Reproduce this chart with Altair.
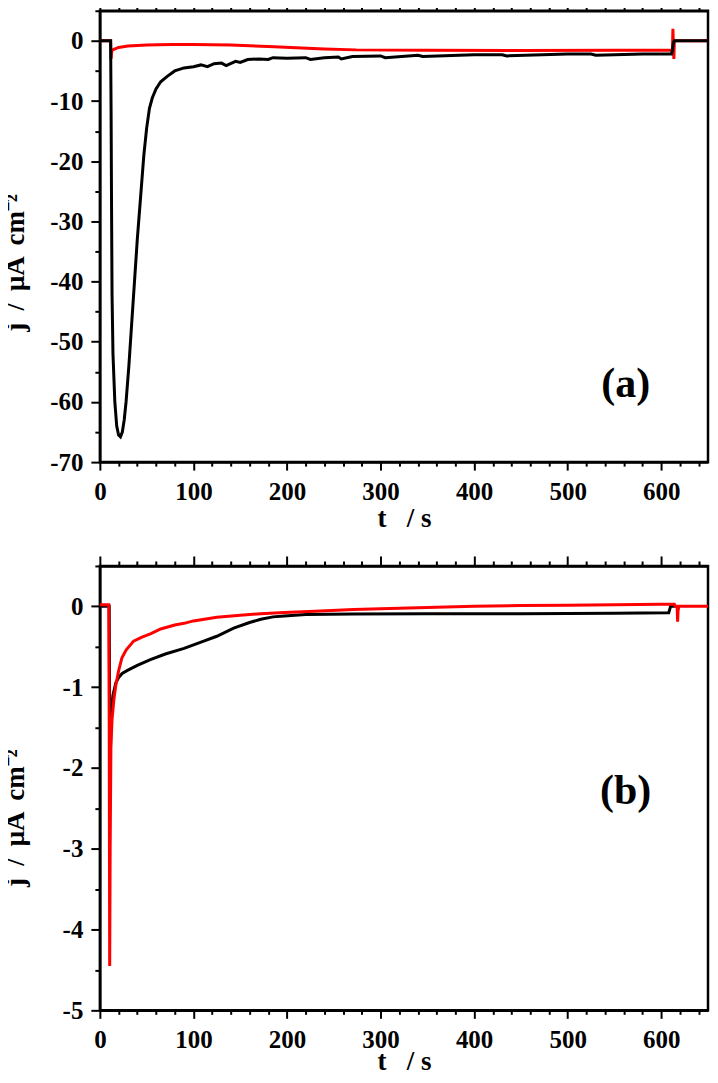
import altair as alt
import pandas as pd

FONT = "Liberation Serif"

# ---------------- Panel (a) ----------------
a_black_t = [0, 10, 11.5, 12, 12.5, 13, 14, 16, 18, 20, 22, 24, 26, 28, 31, 34, 37, 40, 44, 47, 50, 53,
             56, 60, 65, 72, 80, 90, 100, 108, 115, 122, 130, 135, 145, 150, 158, 170, 180, 185, 200,
             220, 225, 240, 255, 258, 270, 300, 305, 340, 345, 400, 430, 435, 500, 525, 530, 580,
             611, 612, 613, 614, 650]
a_black_j = [0, 0, 0, -12, -28, -42, -52, -60, -64, -65.5, -65.8, -65, -63, -60, -54, -47, -40, -33,
             -25, -19, -14.5, -11.2, -9.5, -8, -6.8, -5.9, -5.0, -4.5, -4.3, -4.0, -4.3, -3.8, -3.7,
             -4.1, -3.4, -3.6, -3.1, -3.0, -3.1, -2.8, -2.9, -2.8, -3.1, -2.8, -2.7, -3.0, -2.6, -2.5,
             -2.8, -2.4, -2.6, -2.3, -2.3, -2.5, -2.2, -2.2, -2.4, -2.2, -2.2, -1.5, -0.3, 0, 0]
a_red_t = [0, 11.5, 12, 12.5, 13, 15, 20, 30, 50, 77, 100, 140, 180, 210, 240, 274, 350, 450, 550,
           612, 612.5, 613, 613.5, 614, 615, 650]
a_red_j = [0, 0, -3, -2, -1.6, -1.4, -1.1, -0.85, -0.7, -0.6, -0.6, -0.7, -0.95, -1.15, -1.35, -1.5,
           -1.55, -1.6, -1.55, -1.55, 2.0, -0.5, -3.0, -0.3, 0, 0]

# ---------------- Panel (b) ----------------
b_black_t = [0, 10, 10.5, 11, 11.5, 12.5, 14, 17, 20, 23.8, 30, 40, 54, 70, 90, 111, 125, 143, 160,
             172, 185, 197, 220, 271, 350, 450, 550, 608, 609, 610, 616]
b_black_j = [0, 0, -1.5, -2.1, -1.6, -1.3, -1.1, -0.95, -0.88, -0.83, -0.79, -0.73, -0.66, -0.59,
             -0.52, -0.43, -0.37, -0.27, -0.2, -0.16, -0.13, -0.12, -0.1, -0.095, -0.09, -0.09,
             -0.085, -0.08, -0.04, 0, 0]
b_red_t = [0, 9.5, 10, 10.5, 11, 11.8, 13, 15, 17, 20, 23.5, 28, 36, 45, 54, 65, 80, 90, 100, 125,
           150, 172, 197, 230, 271, 300, 350, 400, 450, 500, 550, 600, 614, 615, 617, 617.5, 618,
           619, 650]
b_red_j = [0.02, 0.02, -1.5, -4.45, -3.0, -1.75, -1.4, -1.15, -0.98, -0.8, -0.64, -0.54, -0.43,
           -0.38, -0.34, -0.28, -0.23, -0.21, -0.18, -0.135, -0.11, -0.09, -0.075, -0.06, -0.04,
           -0.03, -0.015, 0, 0.01, 0.015, 0.02, 0.025, 0.025, 0, 0, -0.19, -0.05, 0, 0]

x_ticks = list(range(0, 660, 20))
a_y_ticks = list(range(-70, 6, 5))
b_y_ticks = [-5 + 0.5 * i for i in range(12)]

panel_labels = ["(a)", "(b)"]
label_t = [562, 562]
label_j = [-57, -2.28]

X_TITLE = "t \u2002/ s"
Y_TITLE = "j \u2009/ \u2009μA \u2009cm⁻²"


def panel(bt, bj, rt, rj, lab, lt, lj, ydom, yticks, ymajor, red_on_top, w, h, xtitle_y):
    black = pd.DataFrame({"t": bt, "j": bj})
    red = pd.DataFrame({"t": rt, "j": rj})
    txt = pd.DataFrame({"t": [lt], "j": [lj], "lab": [lab]})

    xscale = alt.Scale(domain=[0, 650], nice=False, zero=False)
    yscale = alt.Scale(domain=ydom, nice=False, zero=False)

    x_bottom = alt.Axis(
        orient="bottom", values=x_ticks, grid=False,
        labelExpr="datum.value % 100 === 0 ? '' + datum.value : ''",
        tickSize={"condition": {"test": "datum.value % 100 === 0", "value": 8}, "value": 4},
        tickWidth=2, tickColor="black", domainColor="black", domainWidth=2.5,
        labelFont=FONT, labelFontSize=25, labelFontWeight="bold", labelColor="black",
        labelPadding=9, labelOverlap=False, labelFlush=False,
        title=X_TITLE, titleFont=FONT, titleFontSize=27, titleFontWeight="bold",
        titleColor="black", titleY=xtitle_y, titleBaseline="top",
    )
    x_top = alt.Axis(
        orient="top", values=x_ticks, grid=False, labels=False, title=None,
        tickSize={"condition": {"test": "datum.value % 100 === 0", "value": 10}, "value": 5},
        tickWidth=2, tickColor="black", domainColor="black", domainWidth=2.5,
    )
    y_left = alt.Axis(
        orient="left", values=yticks, grid=False,
        labelExpr=f"abs(datum.value % {ymajor}) < 1e-9 ? '' + datum.value : ''",
        tickSize={"condition": {"test": f"abs(datum.value % {ymajor}) < 1e-9", "value": 9}, "value": 5},
        tickWidth=2, tickColor="black", domainColor="black", domainWidth=2.5,
        labelFont=FONT, labelFontSize=25, labelFontWeight="bold", labelColor="black",
        labelPadding=8, labelOverlap=False, labelFlush=False,
        title=Y_TITLE, titleFont=FONT, titleFontSize=27, titleFontWeight="bold",
        titleColor="black", titleX=-70, titleY=252,
    )

    black_layer = alt.Chart(black).mark_line(color="black", strokeWidth=3).encode(
        x=alt.X("t:Q", scale=xscale, axis=x_bottom),
        y=alt.Y("j:Q", scale=yscale, axis=y_left),
    )
    red_layer = alt.Chart(red).mark_line(color="#ff0000", strokeWidth=3).encode(
        x=alt.X("t:Q", scale=xscale, axis=x_top),
        y=alt.Y("j:Q", scale=yscale, axis=None),
    )
    text_layer = alt.Chart(txt).mark_text(
        font=FONT, fontSize=42, fontWeight="bold", color="black", align="center", baseline="middle"
    ).encode(
        x=alt.X("t:Q", scale=xscale, axis=None),
        y=alt.Y("j:Q", scale=yscale, axis=None),
        text="lab:N",
    )
    layers = [black_layer, red_layer] if red_on_top else [red_layer, black_layer]
    return alt.layer(*layers, text_layer).resolve_axis(x="independent", y="independent").properties(
        width=w, height=h
    )


pa = panel(a_black_t, a_black_j, a_red_t, a_red_j, panel_labels[0], label_t[0], label_j[0],
           [-70, 5], a_y_ticks, 10, False, 609, 452, 43)
pb = panel(b_black_t, b_black_j, b_red_t, b_red_j, panel_labels[1], label_t[1], label_j[1],
           [-5, 0.5], b_y_ticks, 1, True, 609, 445, 38)

chart = alt.vconcat(pa, pb, spacing=19).properties(
    padding={"left": -8, "top": -12, "right": -6, "bottom": -1}
).configure_view(stroke="black", strokeWidth=2.5)

chart.save("out.html", embed_options={"renderer": "svg", "actions": False})
